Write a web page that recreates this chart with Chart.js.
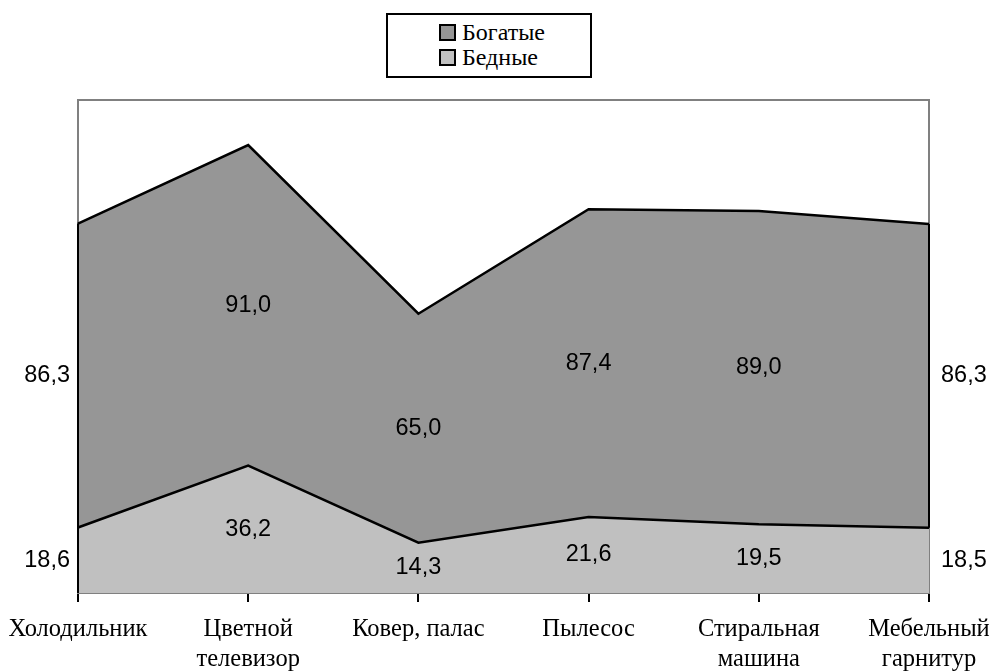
<!DOCTYPE html>
<html>
<head>
<meta charset="utf-8">
<script src="https://cdn.jsdelivr.net/npm/chart.js@4/dist/chart.umd.min.js"></script>
<style>
html,body{margin:0;padding:0;background:#fff;}
#wrap{position:relative;width:997px;height:671px;}
#legend{position:absolute;left:386px;top:13px;width:151px;height:56px;border:2px solid #000;background:#fff;
  padding:5px 0 0 51px;font:24px "Liberation Serif","Times New Roman",serif;color:#000;}
.row{display:flex;align-items:center;height:25px;}
.mk{width:13px;height:13px;border:2px solid #000;margin-right:6px;}
</style>
</head>
<body>
<div id="wrap">
<canvas id="c" width="997" height="671"></canvas>
<div id="legend"></div>
</div>
<script>
const categories = ["Холодильник", ["Цветной", "телевизор"], "Ковер, палас", "Пылесос", ["Стиральная", "машина"], ["Мебельный", "гарнитур"]];
const seriesNames = ["Богатые", "Бедные"];
const richValues = [86.3, 91.0, 65.0, 87.4, 89.0, 86.3];
const poorValues = [18.6, 36.2, 14.3, 21.6, 19.5, 18.5];
const seriesColors = ["#969696", "#C0C0C0"];
const yMin = 0, yMax = 140;

const fmt = v => v.toFixed(1).replace('.', ',');

// HTML legend (rich first, poor second)
const legendEl = document.getElementById('legend');
seriesNames.forEach((n, i) => {
  const r = document.createElement('div'); r.className = 'row';
  const m = document.createElement('div'); m.className = 'mk'; m.style.background = seriesColors[i];
  const t = document.createElement('span'); t.textContent = n;
  r.appendChild(m); r.appendChild(t); legendEl.appendChild(r);
});

const plotBorder = {
  id: 'plotBorder',
  beforeDatasetsDraw(chart) {
    const a = chart.chartArea, ctx = chart.ctx;
    ctx.save();
    ctx.strokeStyle = '#808080'; ctx.lineWidth = 2;
    ctx.strokeRect(a.left, a.top, a.right - a.left, a.bottom - a.top);
    ctx.restore();
  },
  afterDatasetsDraw(chart) {
    const ctx = chart.ctx;
    const top = chart.getDatasetMeta(1).data, low = chart.getDatasetMeta(0).data;
    const yb = chart.scales.y.getPixelForValue(0);
    const n = top.length - 1;
    ctx.save();
    ctx.strokeStyle = '#000'; ctx.lineWidth = 2;
    ctx.beginPath();
    ctx.moveTo(top[0].x, top[0].y); ctx.lineTo(top[0].x, yb);
    ctx.moveTo(top[n].x, top[n].y); ctx.lineTo(top[n].x, low[n].y);
    ctx.stroke();
    ctx.restore();
  }
};

const areaLabels = {
  id: 'areaLabels',
  afterDatasetsDraw(chart) {
    const ctx = chart.ctx, area = chart.chartArea;
    const y0 = chart.scales.y.getPixelForValue(0);
    ctx.save();
    ctx.font = '23.5px "Liberation Sans", Arial, sans-serif';
    ctx.fillStyle = '#000';
    ctx.textBaseline = 'middle';
    chart.data.datasets.forEach((ds, di) => {
      const meta = chart.getDatasetMeta(di);
      const below = di > 0 ? chart.getDatasetMeta(di - 1) : null;
      meta.data.forEach((pt, i) => {
        const yb = below ? below.data[i].y : y0;
        const y = (pt.y + yb) / 2;
        let x = pt.x, align = 'center';
        if (i === 0) { x = area.left - 8; align = 'right'; }
        else if (i === meta.data.length - 1) { x = area.right + 12; align = 'left'; }
        ctx.textAlign = align;
        ctx.fillText(fmt(ds.data[i]), x, y);
      });
    });
    ctx.restore();
  }
};

new Chart(document.getElementById('c'), {
  type: 'line',
  data: {
    labels: categories,
    datasets: [
      { label: seriesNames[1], data: poorValues, backgroundColor: seriesColors[1], borderColor: '#000',
        borderWidth: 2.5, fill: 'origin', pointRadius: 0, tension: 0 },
      { label: seriesNames[0], data: richValues, backgroundColor: seriesColors[0], borderColor: '#000',
        borderWidth: 2.5, fill: '-1', pointRadius: 0, tension: 0 }
    ]
  },
  options: {
    responsive: false,
    animation: false,
    devicePixelRatio: 1,
    layout: { padding: { left: 78, right: 68, top: 100, bottom: 0 } },
    plugins: { legend: { display: false }, tooltip: { enabled: false } },
    scales: {
      x: {
        offset: false,
        grid: { display: true, drawOnChartArea: false, drawTicks: true, tickLength: 9, color: '#000', lineWidth: 2, offset: false },
        border: { display: true, color: '#000', width: 2 },
        ticks: { autoSkip: false, maxRotation: 0, minRotation: 0, padding: 13, color: '#000',
          font: { family: '"Liberation Serif", "Times New Roman", serif', size: 24.5, lineHeight: 1.2 } },
        afterFit: s => { s.height = 78; s.paddingLeft = 0; s.paddingRight = 0; }
      },
      y: { display: false, stacked: true, min: yMin, max: yMax }
    }
  },
  plugins: [plotBorder, areaLabels]
});
</script>
</body>
</html>
